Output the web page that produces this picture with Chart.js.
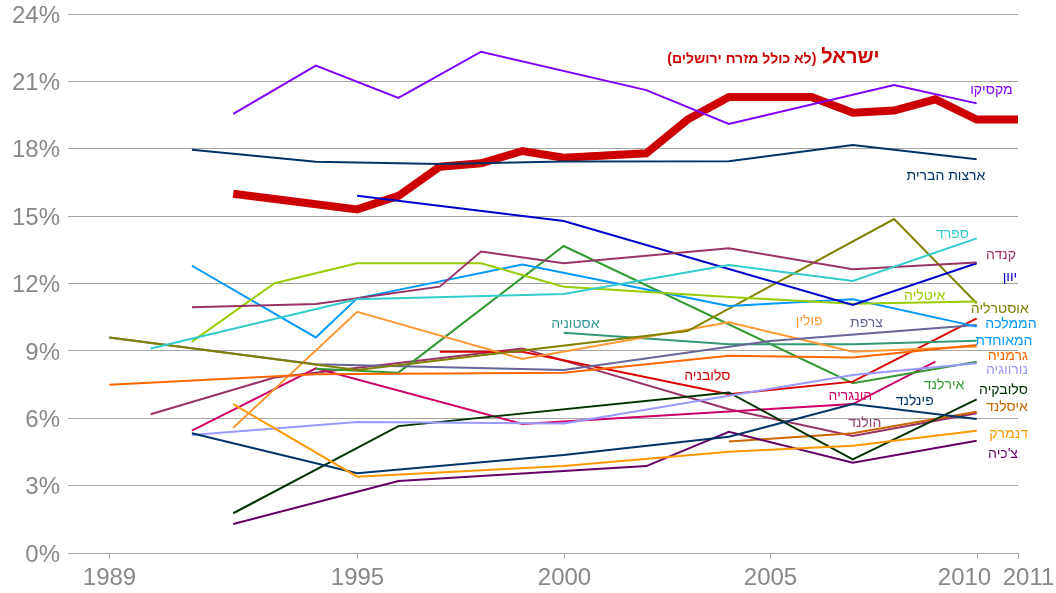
<!DOCTYPE html>
<html>
<head>
<meta charset="utf-8">
<script src="https://cdn.jsdelivr.net/npm/chart.js@4"></script>
<style>
  html, body { margin: 0; padding: 0; background: #fff; }
  #wrap { width: 1056px; height: 593px; }
</style>
</head>
<body>
<div id="wrap"><canvas id="myChart" width="1056" height="593"></canvas></div>
<script>
// tick labels
var yearTicks = [1989, 1995, 2000, 2005, 2010, 2011];
var percentTicks = [0, 3, 6, 9, 12, 15, 18, 21, 24];

// series values (%)
var israelYears = [1992, 1995, 1996, 1997, 1998, 1999, 2000, 2002, 2003, 2004, 2005, 2006, 2007, 2008, 2009, 2010, 2011];
var israel      = [16.0, 15.3, 15.9, 17.2, 17.35, 17.9, 17.6, 17.8, 19.3, 20.3, 20.3, 20.3, 19.6, 19.7, 20.2, 19.3, 19.3];

var mexicoYears = [1992, 1994, 1996, 1998, 2002, 2004, 2008, 2010];
var mexico      = [19.55, 21.7, 20.26, 22.32, 20.61, 19.1, 20.84, 20.02];

var usaYears = [1991, 1994, 1997, 2000, 2004, 2007, 2010];
var usa      = [17.96, 17.42, 17.32, 17.43, 17.44, 18.17, 17.53];

var spainYears = [1990, 1995, 2000, 2004, 2007, 2010];
var spain      = [9.11, 11.3, 11.53, 12.82, 12.11, 14.01];

var canadaYears = [1991, 1994, 1997, 1998, 2000, 2004, 2007, 2010];
var canada      = [10.94, 11.09, 11.86, 13.42, 12.9, 13.57, 12.63, 12.93];

var greeceYears = [1995, 2000, 2007, 2010];
var greece      = [15.91, 14.78, 11.04, 12.9];

var italyYears = [1991, 1993, 1995, 1998, 2000, 2004, 2007, 2010];
var italy      = [9.41, 12.01, 12.9, 12.9, 11.86, 11.4, 11.1, 11.2];

var ukYears = [1991, 1994, 1995, 1999, 2004, 2007, 2010];
var uk      = [12.79, 9.6, 11.34, 12.85, 11.0, 11.3, 10.08];

var australiaYears = [1989, 1995, 2003, 2008, 2010];
var australia      = [9.6, 8.15, 9.88, 14.87, 11.12];

var franceYears = [1989, 1994, 2000, 2005, 2010];
var france      = [9.6, 8.4, 8.15, 9.44, 10.15];

var germanyYears = [1989, 1994, 2000, 2004, 2007, 2010];
var germany      = [7.49, 7.96, 8.03, 8.78, 8.7, 9.26];

var polandYears = [1992, 1995, 1999, 2004, 2007, 2010];
var poland      = [5.58, 10.74, 8.64, 10.27, 8.96, 9.2];

var denmarkYears = [1992, 1995, 2000, 2004, 2007, 2010];
var denmark      = [6.63, 3.4, 3.87, 4.51, 4.78, 5.44];

var finlandYears = [1991, 1995, 2000, 2004, 2007, 2010];
var finland      = [5.33, 3.55, 4.36, 5.18, 6.63, 5.97];

var norwayYears = [1991, 1995, 2000, 2004, 2007, 2010];
var norway      = [5.25, 5.83, 5.77, 7.0, 7.93, 8.45];

var slovakiaYears = [1992, 1996, 2004, 2007, 2010];
var slovakia      = [1.77, 5.65, 7.15, 4.17, 6.84];

var czechYears = [1992, 1996, 2002, 2004, 2007, 2010];
var czech      = [1.29, 3.21, 3.87, 5.4, 4.02, 5.0];

var icelandYears = [2004, 2007, 2010];
var iceland      = [4.96, 5.33, 6.29];

var estoniaYears = [2000, 2004, 2007, 2010];
var estonia      = [9.81, 9.3, 9.3, 9.45];

var sloveniaYears = [1997, 1999, 2004, 2007, 2010];
var slovenia      = [8.96, 8.96, 7.07, 7.63, 10.45];

var irelandYears = [1994, 1996, 2000, 2007, 2010];
var ireland      = [8.2, 8.03, 13.67, 7.56, 8.52];

var hungaryYears = [1991, 1994, 1999, 2007, 2009];
var hungary      = [5.45, 8.22, 5.74, 6.63, 8.52];

var netherlandsYears = [1990, 1993, 1999, 2004, 2007, 2010];
var netherlands      = [6.18, 7.81, 9.11, 6.4, 5.21, 6.22];

// text labels, placed in data units (right edge year, value)
var labelNames = ['מקסיקו', 'ארצות הברית', 'ספרד', 'קנדה', 'יוון', 'איטליה', 'אוסטרליה', 'הממלכה', 'המאוחדת',
  'גרמניה', 'נורווגיה', 'סלובקיה', 'איסלנד', 'דנמרק', "צ'כיה", 'אסטוניה', 'פולין', 'צרפת', 'סלובניה',
  'אירלנד', 'הונגריה', 'פינלנד', 'הולנד'];
var labelYears = [2010.87, 2010.21, 2009.81, 2010.95, 2010.98, 2009.24, 2011.26, 2011.45, 2011.35,
  2011.24, 2011.24, 2011.24, 2011.24, 2011.24, 2011.0, 2000.87, 2006.27, 2007.73, 2004.04,
  2009.7, 2007.47, 2008.96, 2007.69];
var labelValues = [20.59, 16.79, 14.2, 13.27, 12.29, 11.44, 10.86, 10.2, 9.44,
  8.77, 8.15, 7.26, 6.5, 5.3, 4.41, 10.2, 10.33, 10.24, 7.88,
  7.48, 6.99, 6.77, 5.79];
var labelColors = ['#7f00ff', '#003366', '#33cccc', '#993366', '#0000cc', '#99cc00', '#808000', '#0099ff', '#0099ff',
  '#ff6600', '#9999ff', '#003300', '#cc6600', '#ff9900', '#660066', '#339999', '#ff9933', '#666699', '#cc0000',
  '#339933', '#cc0066', '#003366', '#994477'];

function pts(xs, ys) {
  return xs.map(function (x, i) { return { x: x, y: ys[i] }; });
}

function line(name, xs, ys, color, width) {
  return {
    label: name,
    data: pts(xs, ys),
    borderColor: color,
    backgroundColor: color,
    borderWidth: width || 2,
    pointRadius: 0,
    tension: 0,
    fill: false
  };
}

// first dataset ends up on top, israel last so thin lines sit over it
var datasets = [
  line('מקסיקו', mexicoYears, mexico, '#7f00ff'),
  line('ארצות הברית', usaYears, usa, '#003366'),
  line('ספרד', spainYears, spain, '#33cccc'),
  line('קנדה', canadaYears, canada, '#993366'),
  line('יוון', greeceYears, greece, '#0000cc'),
  line('איטליה', italyYears, italy, '#99cc00'),
  line('הממלכה המאוחדת', ukYears, uk, '#0099ff'),
  line('אוסטרליה', australiaYears, australia, '#808000'),
  line('צרפת', franceYears, france, '#666699'),
  line('גרמניה', germanyYears, germany, '#ff6600'),
  line('פולין', polandYears, poland, '#ff9933'),
  line('דנמרק', denmarkYears, denmark, '#ff9900'),
  line('פינלנד', finlandYears, finland, '#003366'),
  line('נורווגיה', norwayYears, norway, '#9999ff'),
  line('סלובקיה', slovakiaYears, slovakia, '#003300'),
  line("צ'כיה", czechYears, czech, '#660066'),
  line('איסלנד', icelandYears, iceland, '#cc6600'),
  line('אסטוניה', estoniaYears, estonia, '#339970'),
  line('סלובניה', sloveniaYears, slovenia, '#dd0000'),
  line('אירלנד', irelandYears, ireland, '#339933'),
  line('הונגריה', hungaryYears, hungary, '#cc0066'),
  line('הולנד', netherlandsYears, netherlands, '#993366'),
  line('ישראל', israelYears, israel, '#cc0000', 8)
];

var textFont = '"Liberation Sans", Arial, sans-serif';
var xTickShift = { 2010: -13, 2011: 10 };

var labelsPlugin = {
  id: 'labelsPlugin',
  afterDraw: function (chart) {
    var c = chart.ctx;
    var xs = chart.scales.x, ys = chart.scales.y;
    c.save();

    // x axis tick marks and labels
    c.strokeStyle = '#aaaaaa';
    c.lineWidth = 1;
    c.fillStyle = '#888888';
    c.font = '24px ' + textFont;
    c.textAlign = 'center';
    c.textBaseline = 'middle';
    yearTicks.forEach(function (yr) {
      var px = Math.round(xs.getPixelForValue(yr)) + 0.5;
      c.beginPath();
      c.moveTo(px, ys.bottom);
      c.lineTo(px, ys.bottom + 6);
      c.stroke();
      c.fillText(String(yr), px + (xTickShift[yr] || 0), ys.bottom + 25);
    });

    // y axis labels
    c.textAlign = 'right';
    percentTicks.forEach(function (v) {
      c.fillText(v + '%', xs.left - 8, ys.getPixelForValue(v) + 2);
    });

    // country names
    c.direction = 'rtl';
    c.textAlign = 'right';
    c.font = '14px ' + textFont;
    labelNames.forEach(function (name, i) {
      c.fillStyle = labelColors[i];
      c.fillText(name, xs.getPixelForValue(labelYears[i]), ys.getPixelForValue(labelValues[i]));
    });

    // israel title
    var tx = xs.getPixelForValue(2007.65), ty = ys.getPixelForValue(22.08);
    c.fillStyle = '#cc0000';
    c.font = 'bold 20px ' + textFont;
    c.fillText('ישראל', tx, ty);
    var w = c.measureText('ישראל').width;
    c.font = 'bold 14px ' + textFont;
    c.fillText('(לא כולל מזרח ירושלים)', tx - w - 5, ty + 2);
    c.restore();
  }
};

const ctx = document.getElementById('myChart');

const chart = new Chart(ctx, {
  type: 'line',
  data: { datasets: datasets },
  options: {
    responsive: false,
    animation: false,
    devicePixelRatio: 1,
    layout: { padding: { left: 0, right: 38, top: 14, bottom: 0 } },
    plugins: {
      legend: { display: false },
      tooltip: { enabled: false }
    },
    scales: {
      x: {
        type: 'linear',
        min: 1988,
        max: 2011,
        afterBuildTicks: function (scale) {
          scale.ticks = yearTicks.map(function (v) { return { value: v }; });
        },
        afterFit: function (scale) { scale.height = 40; },
        grid: { display: false },
        border: { display: false },
        ticks: { display: false }
      },
      y: {
        min: 0,
        max: 24,
        afterBuildTicks: function (scale) {
          scale.ticks = percentTicks.map(function (v) { return { value: v }; });
        },
        afterFit: function (scale) { scale.width = 68; },
        grid: { color: '#a6a6a6', lineWidth: 1, drawTicks: false },
        border: { display: false },
        ticks: { display: false }
      }
    }
  },
  plugins: [labelsPlugin]
});
</script>
</body>
</html>
